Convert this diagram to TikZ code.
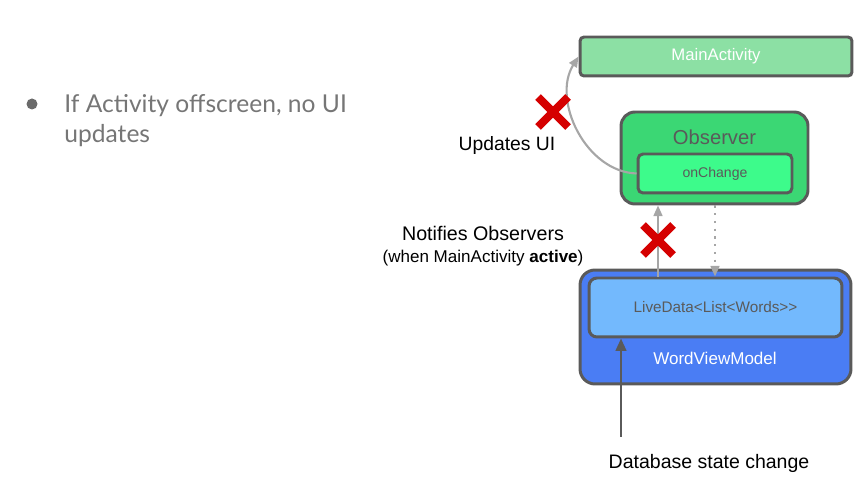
\documentclass[tikz,border=0pt]{standalone}
\usepackage{fontspec}
\setmainfont{Liberation Sans}
\newfontfamily\slidefont{Lato}
\usetikzlibrary{arrows.meta}

\definecolor{boxline}{HTML}{5A5A5A}
\definecolor{actgreen}{HTML}{8CE0A4}
\definecolor{obsgreen}{HTML}{3BD774}
\definecolor{chgreen}{HTML}{3DFB8B}
\definecolor{vmblue}{HTML}{4A7DF4}
\definecolor{ldblue}{HTML}{73B9FD}
\definecolor{arrowgray}{HTML}{A6A6A6}
\definecolor{crossred}{HTML}{D50000}
\definecolor{slidegray}{HTML}{767676}

\tikzset{
  box/.style={draw=boxline, line width=1.7pt, inner sep=0pt},
  graylink/.style={draw=arrowgray, line width=1.2pt, -{Triangle[length=6pt, width=5pt]}},
  cross/.style={crossred, line width=4.6pt}
}

\begin{document}
\begin{tikzpicture}[x=0.02cm, y=-0.02cm]
        \useasboundingbox (0,0) rectangle (865,492);

        % Bullet point on the left
        \fill[slidegray!90!black] (32,104) circle (5.5);
        \node[anchor=base west, inner sep=0pt, text=slidegray, align=left, font=\slidefont\fontsize{14pt}{17.6pt}\selectfont] (bullet) at (64,143) {If Activity offscreen, no UI\\updates};

        % Draw the boxes
        \node[box, fill=actgreen, rounded corners=0.08cm, minimum width=5.44cm, minimum height=0.78cm, text=white, font=\fontsize{9.5pt}{11pt}\selectfont] (main) at (716,56.5) {MainActivity};
        \node[box, fill=obsgreen, rounded corners=0.28cm, minimum width=3.74cm, minimum height=1.84cm] (obs) at (714.5,158) {};
        \node[text=boxline, font=\fontsize{11.5pt}{13pt}\selectfont] (obslabel) at (714.5,137) {Observer};
        \node[box, fill=chgreen, rounded corners=0.1cm, minimum width=3.08cm, minimum height=0.78cm, text=boxline, font=\fontsize{8pt}{9pt}\selectfont] (change) at (715,173.5) {onChange};
        \node[box, fill=vmblue, rounded corners=0.3cm, minimum width=5.42cm, minimum height=2.28cm] (vm) at (715.5,327) {};
        \node[text=white, font=\fontsize{9.7pt}{11pt}\selectfont] (vmlabel) at (715,358) {WordViewModel};
        \node[box, fill=ldblue, rounded corners=0.16cm, minimum width=5.06cm, minimum height=1.18cm, text=boxline, font=\fontsize{8.7pt}{10pt}\selectfont] (live) at (715.5,307.5) {LiveData<List<Words>{}>};

        % Connectors
        \coordinate (notify) at (658,0);
        \coordinate (back) at (715,0);
        \coordinate (db) at (621,437);
        \draw[graylink] (live.north -| notify) -- (obs.south -| notify);
        \draw[graylink, dash pattern=on 1.2pt off 3.2pt] (obs.south -| back) -- (live.north -| back);
        \draw[graylink] (change.west) to[out=178, in=238] (main.west);
        \draw[draw=boxline, line width=1.3pt, -{Triangle[length=7pt, width=6pt]}] (db) -- (live.south -| db);

        % Red crosses on the blocked paths
        \draw[cross] (643,225) -- (673,255) (643,255) -- (673,225);
        \draw[cross] (538,97) -- (568,127) (538,127) -- (568,97);

        % Labels
        \node[font=\fontsize{11pt}{12pt}\selectfont] (updates) at (507,146) {Updates UI};
        \node[font=\fontsize{11.2pt}{12pt}\selectfont] (notifies) at (483,233) {Notifies Observers};
        \node[font=\fontsize{9.7pt}{11pt}\selectfont] (when) at (483,258) {(when MainActivity \textbf{active})};
        \node[font=\fontsize{11.1pt}{12pt}\selectfont] (dblabel) at (709,463) {Database state change};
    \end{tikzpicture}
\end{document}
